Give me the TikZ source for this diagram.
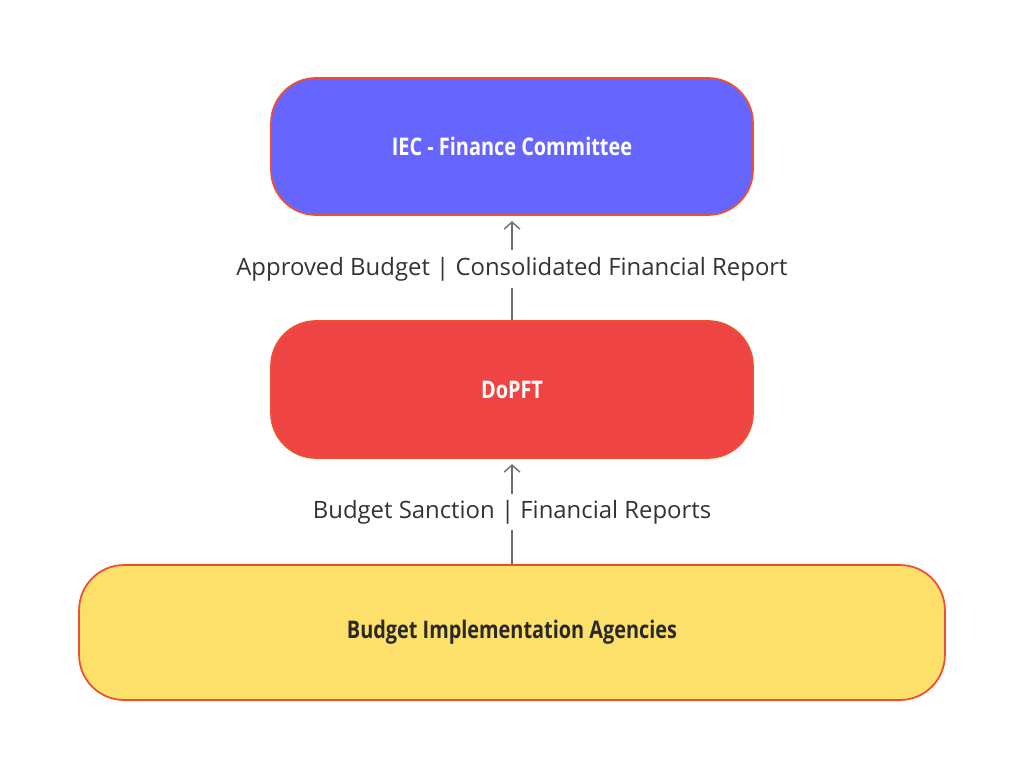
\documentclass[tikz,border=0pt]{standalone}
\usepackage{fontspec}
\setmainfont{Open Sans}
\usetikzlibrary{positioning}
\usetikzlibrary{arrows.meta}
\definecolor{edgered}{RGB}{240,78,48}
\definecolor{iecblue}{RGB}{102,102,255}
\definecolor{dopftred}{RGB}{239,68,68}
\definecolor{agencyyellow}{RGB}{253,224,106}
\definecolor{labelgrey}{RGB}{51,51,51}
\definecolor{arrowgrey}{RGB}{110,110,110}
\tikzset{
	unitbox/.style={draw=edgered, line width=1pt, rounded corners=0.9cm,
		minimum height=2.74cm, font=\fontsize{13.8}{16}\selectfont\bfseries\addfontfeatures{FakeStretch=0.82}},
	flowlabel/.style={inner sep=0pt, minimum height=0.76cm, text=labelgrey,
		font=\fontsize{13.6}{16}\selectfont},
	flow/.style={draw=arrowgrey, line width=0.8pt}
}
\begin{document}
\begin{tikzpicture}[x=0.02cm, y=-0.02cm]
	% canvas 1024 x 780 px
	\useasboundingbox (0,0) rectangle (1024,780);
	
	% boxes
	\node[unitbox, fill=iecblue, text=white, minimum width=9.64cm] (iec) at (512,146.5) {IEC - Finance Committee};
	\node[unitbox, fill=dopftred, text=white, minimum width=9.64cm] (dopft) at (512,389.5) {DoPFT};
	\node[unitbox, fill=agencyyellow, text=labelgrey!80!black, minimum width=17.32cm, minimum height=2.7cm] (bia) at (512,632.5) {Budget Implementation Agencies};
	
	% flow labels
	\node[flowlabel] (lbltop) at (512,269) {Approved Budget | Consolidated Financial Report};
	\node[flowlabel, minimum height=0.7cm] (lblbot) at (512,512) {Budget Sanction | Financial Reports};
	
	% connectors
	\draw[flow] (dopft.north) -- (lbltop.south);
	\draw[flow, -{Straight Barb[length=4pt, width=9pt]}, shorten >=3pt] (lbltop.north) -- (iec.south);
	\draw[flow] (bia.north) -- (lblbot.south);
	\draw[flow, -{Straight Barb[length=4pt, width=9pt]}, shorten >=3pt] (lblbot.north) -- (dopft.south);
\end{tikzpicture}
\end{document}
